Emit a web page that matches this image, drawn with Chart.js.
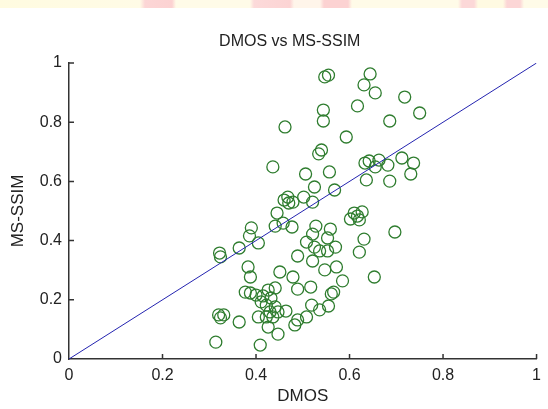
<!DOCTYPE html>
<html>
<head>
<meta charset="utf-8">
<script src="https://cdn.jsdelivr.net/npm/chart.js@4.4.1/dist/chart.umd.min.js"></script>
<style>
  html, body { margin: 0; padding: 0; background: #ffffff; }
  #wrap { position: relative; width: 548px; height: 409px; background: #ffffff; }
  #band { position: absolute; left: 0; top: 0; width: 548px; height: 8px;
    background: linear-gradient(to right,
      #fffbe0 0px, #fffbe6 140px, #fcd6d6 145px, #fcd2d2 172px, #fffbe8 176px,
      #fffbe8 250px, #fcdada 254px, #fcd4d4 290px, #fff5ea 294px, #fff5ea 320px,
      #fcd2d2 324px, #fcd2d2 348px, #fffbe8 352px, #fffbe8 458px, #fcd8d8 462px,
      #fcd8d8 474px, #fffae2 478px, #fffae2 503px, #fcd6d6 507px, #fcd6d6 520px, #fffbe8 524px); }
  canvas { position: absolute; left: 0; top: 0; }
</style>
</head>
<body>
<div id="wrap">
  <canvas id="c" width="548" height="409"></canvas>
  <div id="band"></div>
</div>
<script>
// DMOS values (x) and MS-SSIM values (y)
const dmos = [
  0.547, 0.555, 0.644, 0.631, 0.655, 0.718, 0.544, 0.544, 0.617, 0.686,
  0.750, 0.593, 0.462, 0.540, 0.534, 0.712, 0.633, 0.642, 0.663, 0.682,
  0.655, 0.737, 0.731, 0.686, 0.636, 0.557, 0.506, 0.436, 0.525, 0.568,
  0.502, 0.521, 0.460, 0.470, 0.479, 0.468, 0.445, 0.610, 0.602, 0.627,
  0.621, 0.617, 0.528, 0.559, 0.697, 0.441, 0.458, 0.477, 0.390, 0.386,
  0.521, 0.508, 0.553, 0.405, 0.364, 0.322, 0.324, 0.631, 0.525, 0.536,
  0.553, 0.570, 0.621, 0.489, 0.521, 0.383, 0.388, 0.451, 0.479, 0.547,
  0.572, 0.585, 0.653, 0.489, 0.517, 0.561, 0.566, 0.377, 0.388, 0.400,
  0.415, 0.426, 0.441, 0.411, 0.422, 0.432, 0.441, 0.430, 0.447, 0.422,
  0.436, 0.464, 0.519, 0.536, 0.555, 0.508, 0.489, 0.483, 0.405, 0.426,
  0.447, 0.320, 0.331, 0.324, 0.364, 0.314, 0.409
];
const msssim = [
  0.953, 0.959, 0.963, 0.926, 0.899, 0.885, 0.841, 0.804, 0.855, 0.804,
  0.831, 0.750, 0.784, 0.706, 0.693, 0.679, 0.662, 0.669, 0.672, 0.655,
  0.649, 0.662, 0.625, 0.601, 0.605, 0.632, 0.625, 0.649, 0.581, 0.571,
  0.547, 0.530, 0.537, 0.527, 0.530, 0.547, 0.493, 0.493, 0.473, 0.497,
  0.470, 0.483, 0.449, 0.439, 0.429, 0.449, 0.459, 0.446, 0.443, 0.416,
  0.422, 0.395, 0.409, 0.392, 0.375, 0.358, 0.345, 0.405, 0.378, 0.365,
  0.365, 0.378, 0.361, 0.348, 0.331, 0.311, 0.277, 0.294, 0.277, 0.301,
  0.311, 0.264, 0.277, 0.236, 0.243, 0.220, 0.226, 0.226, 0.223, 0.216,
  0.213, 0.233, 0.240, 0.193, 0.182, 0.206, 0.176, 0.159, 0.159, 0.142,
  0.142, 0.162, 0.182, 0.166, 0.179, 0.142, 0.132, 0.115, 0.142, 0.108,
  0.084, 0.149, 0.149, 0.139, 0.125, 0.057, 0.047
];
// Reference line y = x
const lineX = [0, 1];
const lineY = [0, 1];
// Tick labels and texts
const xTickLabels = ['0', '0.2', '0.4', '0.6', '0.8', '1'];
const yTickLabels = ['0', '0.2', '0.4', '0.6', '0.8', '1'];
const chartTitle = 'DMOS vs MS-SSIM';

const scatterPts = dmos.map((x, i) => ({ x: x, y: msssim[i] }));
const linePts = lineX.map((x, i) => ({ x: x, y: lineY[i] }));

const FONT = "'Liberation Sans', Arial, sans-serif";

const inwardTicks = {
  id: 'inwardTicks',
  afterDatasetsDraw(chart) {
    const ctx = chart.ctx;
    const xs = chart.scales.x, ys = chart.scales.y;
    ctx.save();
    ctx.strokeStyle = '#333333';
    ctx.lineWidth = 1.5;
    ctx.beginPath();
    xs.ticks.forEach(t => {
      if (t.value === 0) return;
      const px = xs.getPixelForValue(t.value);
      ctx.moveTo(px, ys.bottom);
      ctx.lineTo(px, ys.bottom - 5);
    });
    ys.ticks.forEach(t => {
      if (t.value === 0) return;
      const py = ys.getPixelForValue(t.value);
      ctx.moveTo(xs.left, py);
      ctx.lineTo(xs.left + 5, py);
    });
    ctx.stroke();
    ctx.restore();
  }
};

const axesTitle = {
  id: 'axesTitle',
  afterDraw(chart) {
    const ctx = chart.ctx;
    const xs = chart.scales.x;
    ctx.save();
    ctx.fillStyle = '#222222';
    ctx.font = "16px " + FONT;
    ctx.textAlign = 'center';
    ctx.textBaseline = 'middle';
    ctx.fillText(chartTitle, (xs.left + xs.right) / 2 - 13, 42);
    ctx.restore();
  }
};

new Chart(document.getElementById('c'), {
  type: 'scatter',
  data: {
    datasets: [
      {
        type: 'line',
        data: linePts,
        borderColor: '#2424b0',
        borderWidth: 1,
        pointRadius: 0,
        fill: false,
        tension: 0
      },
      {
        data: scatterPts,
        pointStyle: 'circle',
        pointRadius: 6,
        pointHoverRadius: 6,
        borderColor: '#2f7d2f',
        backgroundColor: 'rgba(0,0,0,0)',
        borderWidth: 1.3
      }
    ]
  },
  options: {
    responsive: false,
    animation: false,
    devicePixelRatio: 1,
    layout: { padding: { left: 0, right: 7, top: 63, bottom: 0 } },
    plugins: {
      legend: { display: false },
      tooltip: { enabled: false },
      title: { display: false }
    },
    scales: {
      x: {
        type: 'linear',
        min: 0, max: 1,
        afterFit(scale) { scale.height = 50; },
        grid: { display: false, drawTicks: false },
        border: { display: true, color: '#333333', width: 1.5 },
        ticks: {
          stepSize: 0.2,
          padding: 7,
          color: '#222222',
          font: { family: FONT, size: 16 },
          maxRotation: 0,
          callback: (v, i) => xTickLabels[i]
        },
        title: {
          display: true,
          text: 'DMOS',
          color: '#222222',
          font: { family: FONT, size: 17 },
          padding: { top: 0, bottom: 2 }
        }
      },
      y: {
        type: 'linear',
        min: 0, max: 1,
        afterFit(scale) { scale.width = 69; },
        grid: { display: false, drawTicks: false },
        border: { display: true, color: '#333333', width: 1.5 },
        ticks: {
          stepSize: 0.2,
          padding: 7,
          color: '#222222',
          font: { family: FONT, size: 16 },
          callback: (v, i) => yTickLabels[i]
        },
        title: {
          display: true,
          text: 'MS-SSIM',
          color: '#222222',
          font: { family: FONT, size: 17 },
          padding: { top: 8, bottom: 0 }
        }
      }
    }
  },
  plugins: [inwardTicks, axesTitle]
});
</script>
</body>
</html>
